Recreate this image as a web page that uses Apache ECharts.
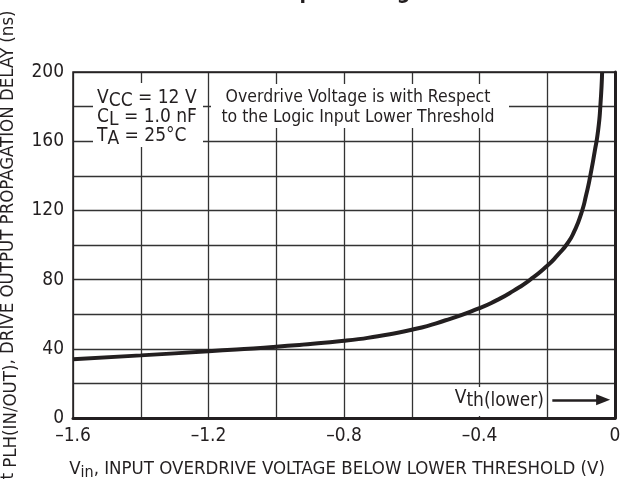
<!DOCTYPE html>
<html>
<head>
<meta charset="utf-8">
<script src="https://cdn.jsdelivr.net/npm/echarts@6/dist/echarts.min.js"></script>
<style>
  html, body { margin: 0; padding: 0; background: #fff; }
  #chart { width: 623px; height: 486px; }
</style>
</head>
<body>
<div id="chart"></div>
<script>
// curve: overdrive voltage (V) vs propagation delay (ns)
const overdrive = [-1.6, -1.4, -1.2, -1.0, -0.8, -0.7, -0.6, -0.5, -0.4, -0.35, -0.3, -0.25, -0.2, -0.17, -0.14, -0.12, -0.1, -0.085, -0.072, -0.06, -0.05, -0.043, -0.038];
const delay     = [34, 36.2, 38.6, 41.2, 44.6, 47.3, 51, 56.5, 63.5, 68, 73.5, 80, 88, 94, 101, 108, 118, 129, 141, 154, 166, 181, 200];
const arrowX = [-0.185, -0.035];
const arrowY = 10.5;

const FONT = '"DejaVu Sans Condensed", "Liberation Sans Narrow", "Arial Narrow", sans-serif';
const INK = '#231f20';

const chart = echarts.init(document.getElementById('chart'));

const curve = overdrive.map((x, i) => [x, delay[i]]);

const option = {
  animation: false,
  grid: { left: 73, right: 8, top: 72, bottom: 68, outerBoundsMode: 'none', containLabel: false },
  xAxis: {
    type: 'value', min: -1.6, max: 0, interval: 0.2,
    name: '{n|V}{s|in}{n|, INPUT OVERDRIVE VOLTAGE BELOW LOWER THRESHOLD (V)}',
    nameLocation: 'middle', nameGap: 39,
    nameTextStyle: {
      padding: [0, 14, 0, 0],
      rich: {
        n: { fontFamily: FONT, fontSize: 18.5, color: INK },
        s: { fontFamily: FONT, fontSize: 16, color: INK, padding: [8, 0, 0, 0] }
      }
    },
    axisLine: { show: true, onZero: false, lineStyle: { color: INK, width: 3 } },
    axisTick: { show: false },
    splitLine: { show: true, lineStyle: { color: '#333', width: 1.3 } },
    axisLabel: {
      fontFamily: FONT, fontSize: 19, color: INK, margin: 9,
      formatter: v => {
        const k = Math.round(v * 10);
        if (Math.abs(k) % 4 !== 0) return '';
        return k === 0 ? '0' : '\u2013' + Math.abs(v).toFixed(1);
      }
    }
  },
  yAxis: {
    type: 'value', min: 0, max: 200, interval: 20,
    name: '{n|t}{s| PLH(IN/OUT)}{n|, DRIVE OUTPUT PROPAGATION DELAY (ns)}',
    nameLocation: 'middle', nameGap: 45, nameRotate: 90,
    nameTextStyle: {
      rich: {
        n: { fontFamily: FONT, fontSize: 18.5, color: INK },
        s: { fontFamily: FONT, fontSize: 18.5, color: INK, padding: [6, 0, 0, 0] }
      }
    },
    axisLine: { show: true, lineStyle: { color: INK, width: 3 } },
    axisTick: { show: false },
    splitLine: { show: true, lineStyle: { color: '#333', width: 1.3 } },
    axisLabel: {
      fontFamily: FONT, fontSize: 19, color: INK, margin: 9,
      formatter: v => (v % 40 === 0 ? String(v) : '')
    }
  },
  series: [
    {
      type: 'line', data: curve, smooth: 0.6, showSymbol: false,
      lineStyle: { color: INK, width: 4 }, z: 5
    },
    {
      type: 'line', data: [], silent: true,
      markLine: {
        silent: true, symbol: ['none', 'triangle'], symbolSize: [11, 14],
        label: { show: false },
        lineStyle: { color: INK, width: 2.5, type: 'solid' },
        data: [[{ coord: [arrowX[0], arrowY] }, { coord: [arrowX[1], arrowY] }]]
      }
    }
  ],
  graphic: [
    // frame on top and right
    { type: 'rect', shape: { x: 73, y: 72, width: 542, height: 346 }, style: { fill: 'none', stroke: INK, lineWidth: 1.5 }, z: 1 },
    // partially visible title
    { type: 'text', x: 279, y: 4, style: { text: 'Input Voltage', font: 'bold 21px ' + FONT, fill: INK, textVerticalAlign: 'bottom' } },
    // condition box
    { type: 'rect', shape: { x: 93, y: 83, width: 110, height: 64 }, style: { fill: '#fff' }, z: 10 },
    { type: 'text', x: 97, y: 98, z: 11, style: { rich: { n: { font: '19px ' + FONT, fill: INK }, s: { font: '19px ' + FONT, fill: INK, padding: [7, 0, 0, 0] } }, text: '{n|V}{s|CC}{n| = 12 V}', textVerticalAlign: 'middle' } },
    { type: 'text', x: 97, y: 117, z: 11, style: { rich: { n: { font: '19px ' + FONT, fill: INK }, s: { font: '19px ' + FONT, fill: INK, padding: [7, 0, 0, 0] } }, text: '{n|C}{s|L}{n| = 1.0 nF}', textVerticalAlign: 'middle' } },
    { type: 'text', x: 97, y: 136, z: 11, style: { rich: { n: { font: '19px ' + FONT, fill: INK }, s: { font: '19px ' + FONT, fill: INK, padding: [7, 0, 0, 0] } }, text: '{n|T}{s|A}{n| = 25\u00B0C}', textVerticalAlign: 'middle' } },
    // note box
    { type: 'rect', shape: { x: 211, y: 84, width: 298, height: 44 }, style: { fill: '#fff' }, z: 10 },
    { type: 'text', x: 358, y: 97, z: 11, style: { text: 'Overdrive Voltage is with Respect', font: '17.5px ' + FONT, fill: INK, textAlign: 'center', textVerticalAlign: 'middle' } },
    { type: 'text', x: 358, y: 117, z: 11, style: { text: 'to the Logic Input Lower Threshold', font: '17.5px ' + FONT, fill: INK, textAlign: 'center', textVerticalAlign: 'middle' } },
    // threshold label
    { type: 'rect', shape: { x: 460, y: 387, width: 86, height: 29 }, style: { fill: '#fff' }, z: 10 },
    { type: 'text', x: 544, y: 398, z: 11, style: { rich: { n: { font: '19px ' + FONT, fill: INK }, s: { font: '19px ' + FONT, fill: INK, padding: [7, 0, 0, 0] } }, text: '{n|V}{s|th(lower)}', textAlign: 'right', textVerticalAlign: 'middle' } }
  ]
};

chart.setOption(option);
</script>
</body>
</html>
